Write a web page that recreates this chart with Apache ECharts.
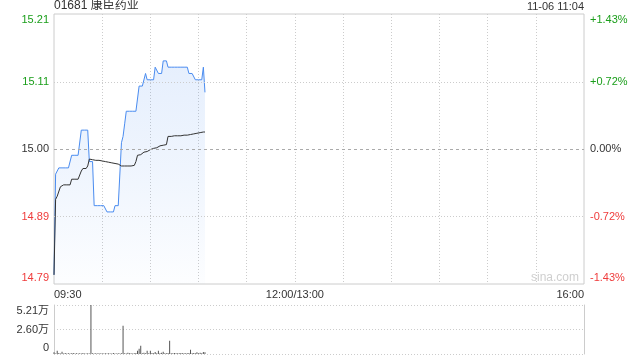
<!DOCTYPE html>
<html>
<head>
<meta charset="utf-8">
<script src="https://cdn.jsdelivr.net/npm/echarts@6/dist/echarts.min.js"></script>
<style>
html,body{margin:0;padding:0;background:#fff;}
#chart{width:640px;height:360px;}
</style>
</head>
<body>
<div id="chart"></div>
<script>
// ---- data ----
var preClose = 15.00;
var stockTitle = '01681 康臣药业';
var stampText = '11-06 11:04';
// minute prices from 09:30 to 11:04
var prices = [
  14.80, 14.96, 14.96, 14.97, 14.97, 14.97, 14.97, 14.97, 14.97, 14.97,
  14.97, 14.99, 14.99, 14.99, 14.99, 14.99, 14.99, 15.03, 15.03, 15.03,
  15.03, 15.03, 14.98, 14.98, 14.98, 14.91, 14.91, 14.91, 14.91, 14.91,
  14.91, 14.91, 14.91, 14.90, 14.90, 14.90, 14.90, 14.90, 14.91, 14.91,
  14.91, 14.91, 15.01, 15.02, 15.04, 15.06, 15.06, 15.06, 15.06, 15.06,
  15.06, 15.06, 15.06, 15.10, 15.10, 15.10, 15.10, 15.12, 15.11, 15.11,
  15.11, 15.11, 15.11, 15.13, 15.13, 15.12, 15.12, 15.12, 15.14, 15.14,
  15.14, 15.13, 15.13, 15.13, 15.13, 15.13, 15.13, 15.13, 15.13, 15.13,
  15.13, 15.13, 15.13, 15.13, 15.12, 15.12, 15.12, 15.12, 15.11, 15.11,
  15.11, 15.11, 15.11, 15.13, 15.09
];
// minute average prices
var avgPrices = [
  14.800, 14.920, 14.925, 14.925, 14.940, 14.943, 14.943, 14.943, 14.943, 14.943,
  14.943, 14.952, 14.952, 14.952, 14.952, 14.952, 14.952, 14.965, 14.969, 14.969,
  14.969, 14.973, 14.984, 14.984, 14.983, 14.983, 14.982, 14.982, 14.982, 14.981,
  14.981, 14.981, 14.980, 14.980, 14.979, 14.979, 14.978, 14.978, 14.977, 14.976,
  14.976, 14.975, 14.973, 14.973, 14.973, 14.973, 14.973, 14.973, 14.973, 14.973,
  14.974, 14.980, 14.990, 14.991, 14.991, 14.992, 14.995, 14.995, 14.996, 14.998,
  14.999, 15.000, 15.001, 15.002, 15.002, 15.004, 15.005, 15.006, 15.006, 15.006,
  15.007, 15.020, 15.020, 15.020, 15.020, 15.021, 15.021, 15.021, 15.021, 15.021,
  15.022, 15.022, 15.022, 15.022, 15.023, 15.023, 15.024, 15.024, 15.025, 15.025,
  15.025, 15.026, 15.026, 15.027, 15.027
];
// minute volumes (shares)
var volumes = [
  1800, 600, 3500, 1000, 500, 2500, 600, 1000, 500, 700,
  600, 800, 1100, 500, 700, 600, 900, 500, 1100, 600,
  500, 700, 600, 52100, 800, 600, 700, 500, 800, 600,
  700, 500, 900, 600, 700, 500, 600, 1100, 600, 500,
  700, 600, 900, 30100, 800, 600, 1200, 700, 900, 600,
  800, 1000, 3500, 5700, 8900, 900, 1200, 700, 3500, 800,
  3500, 1100, 700, 2200, 800, 3500, 700, 1200, 2500, 900,
  700, 1000, 14200, 900, 700, 1100, 800, 900, 700, 1000,
  800, 700, 900, 800, 1000, 4600, 800, 1100, 900, 1800,
  800, 1200, 900, 2200, 1800
];
var priceTicks = ['14.79', '14.89', '15.00', '15.11', '15.21'];
var pctTicks = ['-1.43%', '-0.72%', '0.00%', '+0.72%', '+1.43%'];
var volTicks = ['0', '2.60万', '5.21万'];
var timeLabels = ['09:30', '12:00/13:00', '16:00'];

// ---- categories: HK session minutes ----
function pad(n){ return (n < 10 ? '0' : '') + n; }
var categories = [];
for (var m = 0; m < 150; m++) {
  var t = 9 * 60 + 30 + m;
  categories.push(pad(Math.floor(t / 60)) + ':' + pad(t % 60));
}
categories.push(timeLabels[1]);
for (var m2 = 1; m2 <= 180; m2++) {
  var t2 = 13 * 60 + m2;
  categories.push(pad(Math.floor(t2 / 60)) + ':' + pad(t2 % 60));
}
var lastIdx = categories.length - 1;

var pctRange = 1.43;
var pctStep = 0.715;
var pctData = prices.map(function (p) { return (p - preClose) / preClose * 100; });
var avgPct = avgPrices.map(function (p) { return (p - preClose) / preClose * 100; });
var volMax = 52100;

var FONT = "'Liberation Sans', Arial, 'Noto Sans CJK SC', sans-serif";
var GREEN = '#1a9e1a', RED = '#ef3b3b', DARK = '#333';
var styleNames = ['rb', 'r', 'k', 'g', 'gt'];
function richSet() {
  return {
    rb: { color: RED, fontSize: 11, fontFamily: FONT, padding: [0, 0, 12, 0] },
    r: { color: RED, fontSize: 11, fontFamily: FONT },
    k: { color: DARK, fontSize: 11, fontFamily: FONT },
    g: { color: GREEN, fontSize: 11, fontFamily: FONT },
    gt: { color: GREEN, fontSize: 11, fontFamily: FONT, padding: [12, 0, 0, 0] },
    kb: { color: DARK, fontSize: 11, fontFamily: FONT, padding: [0, 0, 12, 0] },
    kt: { color: DARK, fontSize: 11, fontFamily: FONT, padding: [12, 0, 0, 0] },
    xl: { color: DARK, fontSize: 11, fontFamily: FONT, width: 70, align: 'left', padding: [0, 0, 0, 70] },
    xc: { color: DARK, fontSize: 11, fontFamily: FONT },
    xr: { color: DARK, fontSize: 11, fontFamily: FONT, width: 70, align: 'right', padding: [0, 70, 0, 0] }
  };
}
function pctIndex(v) { return Math.round((Number(v) + pctRange) / pctStep); }

var chart = echarts.init(document.getElementById('chart'), null, { renderer: 'canvas' });
var option = {
  animation: false,
  backgroundColor: '#fff',
  textStyle: { fontFamily: FONT },
  graphic: [
    { type: 'text', left: 54, top: 0, style: { text: stockTitle, font: '12px ' + FONT, fill: DARK } },
    { type: 'text', right: 56, top: 1, style: { text: stampText, font: '11px ' + FONT, fill: DARK } },
    { type: 'text', left: 531, top: 272, z: 0, style: { text: 'sina.com', font: '12px ' + FONT, fill: '#cfcfcf' } }
  ],
  grid: [
    { left: 54, top: 14, width: 530, height: 270, show: true, borderColor: '#ccc', borderWidth: 1, backgroundColor: 'transparent' },
    { left: 54, top: 305, width: 530, height: 49, show: false }
  ],
  xAxis: [
    {
      type: 'category', gridIndex: 0, data: categories, boundaryGap: false,
      axisLine: { show: false }, axisTick: { show: false },
      axisLabel: {
        margin: 5,
        interval: function (i) { return i === 0 || i === 150 || i === lastIdx; },
        formatter: function (v, i) {
          if (i === 0) return '{xl|' + timeLabels[0] + '}';
          if (i === lastIdx) return '{xr|' + timeLabels[2] + '}';
          return '{xc|' + timeLabels[1] + '}';
        },
        rich: richSet()
      },
      splitLine: {
        show: true,
        interval: function (i) { return i % 30 === 0 && i > 0 && i < lastIdx; },
        lineStyle: { color: '#ccc', type: [1, 2], width: 1 }
      }
    },
    {
      type: 'category', gridIndex: 1, data: categories, boundaryGap: false,
      axisLine: { show: false }, axisTick: { show: false }, axisLabel: { show: false },
      splitLine: { show: false }
    }
  ],
  yAxis: [
    {
      type: 'value', gridIndex: 0, position: 'left', min: -pctRange, max: pctRange, interval: pctStep,
      axisLine: { show: false }, axisTick: { show: false },
      axisLabel: {
        margin: 5,
        formatter: function (v) { var k = pctIndex(v); return '{' + styleNames[k] + '|' + priceTicks[k] + '}'; },
        rich: richSet()
      },
      splitLine: { show: false }
    },
    {
      type: 'value', gridIndex: 0, position: 'right', min: -pctRange, max: pctRange, interval: pctStep,
      axisLine: { show: false }, axisTick: { show: false },
      axisLabel: {
        margin: 6,
        formatter: function (v) { var k = pctIndex(v); return '{' + styleNames[k] + '|' + pctTicks[k] + '}'; },
        rich: richSet()
      },
      splitLine: { show: false }
    },
    {
      type: 'value', gridIndex: 1, position: 'left', min: 0, max: volMax, interval: volMax / 2,
      axisLine: { show: true, lineStyle: { color: '#ccc', width: 1 } }, axisTick: { show: false },
      axisLabel: {
        margin: 5,
        formatter: function (v) {
          var k = Math.round(Number(v) / (volMax / 2));
          var s = k === 0 ? 'kb' : (k === 2 ? 'kt' : 'k');
          return '{' + s + '|' + volTicks[k] + '}';
        },
        rich: richSet()
      },
      splitLine: { show: true, lineStyle: { color: '#ccc', type: [1, 2], width: 1 } }
    },
    {
      type: 'value', gridIndex: 1, position: 'right', min: 0, max: volMax, interval: volMax / 2,
      axisLine: { show: true, lineStyle: { color: '#ccc', width: 1 } }, axisTick: { show: false },
      axisLabel: { show: false }, splitLine: { show: false }
    }
  ],
  series: [
    {
      name: 'price', type: 'line', xAxisIndex: 0, yAxisIndex: 0, data: pctData,
      showSymbol: false, symbol: 'none', z: 3,
      lineStyle: { color: '#4a8cf0', width: 1 },
      areaStyle: {
        origin: 'start',
        color: new echarts.graphic.LinearGradient(0, 0, 0, 1, [
          { offset: 0, color: 'rgba(74,140,240,0.2)' },
          { offset: 0.5, color: 'rgba(74,140,240,0.12)' },
          { offset: 1, color: 'rgba(74,140,240,0.02)' }
        ])
      },
      markLine: {
        silent: true, symbol: 'none', animation: false,
        label: { show: false },
        data: [
          { yAxis: -pctStep, lineStyle: { color: '#ccc', type: [1, 2], width: 1 } },
          { yAxis: pctStep, lineStyle: { color: '#ccc', type: [1, 2], width: 1 } },
          { yAxis: 0, lineStyle: { color: '#aaa', type: [3, 3], width: 1 } }
        ]
      }
    },
    {
      name: 'avg', type: 'line', xAxisIndex: 0, yAxisIndex: 0, data: avgPct,
      showSymbol: false, symbol: 'none', z: 4,
      lineStyle: { color: '#333', width: 1 }
    },
    {
      name: 'volume', type: 'bar', xAxisIndex: 1, yAxisIndex: 2, data: volumes,
      barWidth: 1, itemStyle: { color: '#555' }
    }
  ]
};
chart.setOption(option);
</script>
</body>
</html>
